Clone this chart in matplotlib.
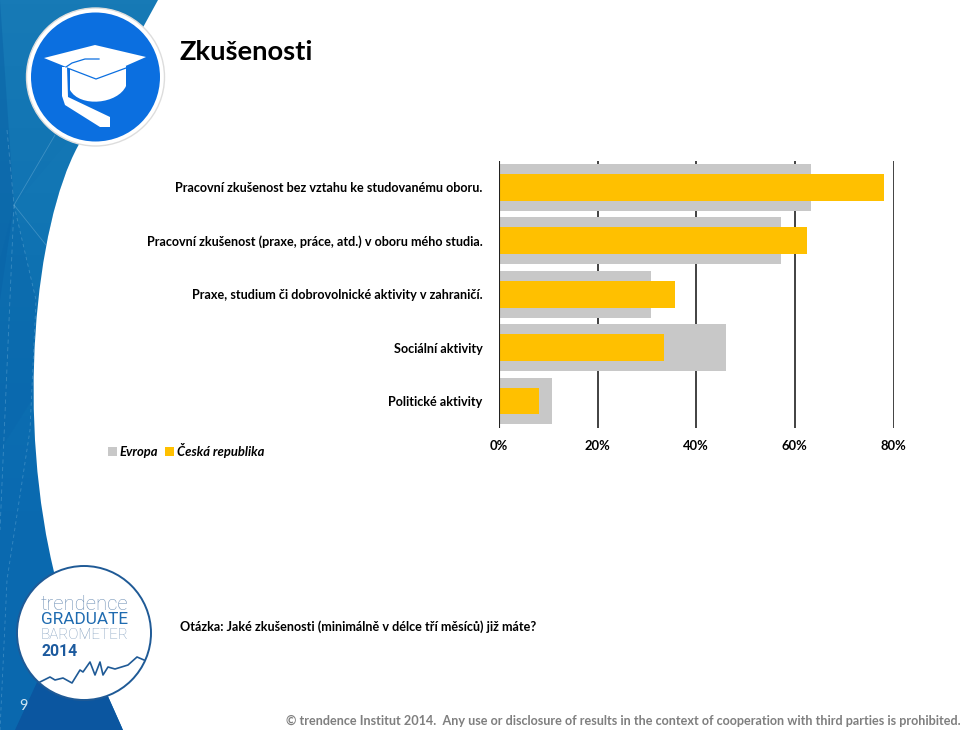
import numpy as np
import matplotlib
matplotlib.use("Agg")
import matplotlib.pyplot as plt
from matplotlib.patches import Circle, Polygon, PathPatch
from matplotlib.path import Path

plt.rcParams["font.family"] = ["Lato", "DejaVu Sans"]

categories = [
    "Pracovní zkušenost bez vztahu ke studovanému oboru.",
    "Pracovní zkušenost (praxe, práce, atd.) v oboru mého studia.",
    "Praxe, studium či dobrovolnické aktivity v zahraničí.",
    "Sociální aktivity",
    "Politické aktivity",
]
evropa = [63.3, 57.2, 30.8, 46.0, 10.7]
cesko = [78.1, 62.5, 35.7, 33.5, 8.1]
x_ticks = [0, 20, 40, 60, 80]

GREY = "#c8c8c8"
YELLOW = "#ffc000"
BLUE = "#0b6fe0"
W, H = 960, 730

fig = plt.figure(figsize=(9.6, 7.3), dpi=100, facecolor="white")

# vrstva dekorace v pixelech obrazku
bg = fig.add_axes([0, 0, 1, 1], zorder=0)
bg.set_xlim(0, W); bg.set_ylim(H, 0); bg.axis("off")

M, L, C = Path.MOVETO, Path.LINETO, Path.CURVE4
panel = PathPatch(Path([(0, 0), (158, 0), (78, 146), (35, 225), (15, 420), (56, 580), (123, 730), (0, 730), (0, 0)],
                       [M, L, L, C, C, C, L, L, Path.CLOSEPOLY]), fc="none", ec="none")
bg.add_patch(panel)
stops = np.array([[0x17, 0x7a, 0xb6], [0x0f, 0x72, 0xb2], [0x0a, 0x6a, 0xb0], [0x0a, 0x68, 0xae]]) / 255
yy = np.linspace(0, 1, 200)
grad = np.stack([np.interp(yy, [0, 0.35, 0.7, 1], stops[:, i]) for i in range(3)], axis=1)[:, None, :]
im = bg.imshow(grad, extent=(0, 160, 730, 0), aspect="auto", zorder=1)
im.set_clip_path(panel)
bg.set_xlim(0, W); bg.set_ylim(H, 0)

facets = [
    ([(0, 0), (14, 205), (0, 300)], "#0a62a6", 0.5),
    ([(14, 205), (78, 130), (46, 245)], "#1a80bb", 0.18),
    ([(14, 205), (36, 300), (32, 400), (0, 450), (0, 260)], "#0863aa", 0.3),
    ([(38, 680), (100, 660), (123, 730), (15, 730)], "#0b56a0", 1.0),
]
for pts, col, al in facets:
    p = Polygon(pts, closed=True, fc=col, ec="none", alpha=al, zorder=2)
    bg.add_patch(p)
    p.set_clip_path(panel)
for seg, ls in [
    ([(7, 130), (14, 205), (0, 530)], (0, (5, 4))),
    ([(14, 205), (36, 300), (30, 430), (7, 580), (0, 730)], (0, (4, 4))),
    ([(14, 205), (55, 135)], "-"),
    ([(14, 205), (46, 245)], "-"),
]:
    xs, ys = zip(*seg)
    l, = bg.plot(xs, ys, color="#8fc4e4", lw=0.6, ls=ls, alpha=0.35, zorder=3)
    l.set_clip_path(panel)

# ikona s cepici
bg.add_patch(Circle((95.5, 77), 69, fc="white", ec="#dddddd", lw=1, zorder=4))
bg.add_patch(Circle((95.5, 77), 64.5, fc=BLUE, ec="none", zorder=5))
body = Path([(70, 66), (126, 66), (126, 86), (118, 104), (80, 108), (70, 90), (70, 66)],
            [M, L, L, C, C, C, Path.CLOSEPOLY])
bg.add_patch(PathPatch(body, fc="white", ec="none", zorder=6))
bg.add_patch(Polygon([(62, 67), (67, 67), (68, 97), (110, 117), (110, 127), (100, 127), (65, 105), (62, 96)],
                     fc="white", ec="none", zorder=6))
bg.add_patch(Polygon([(44, 58), (95, 45), (146, 57), (96, 79)], fc="white", ec="none", zorder=7))
bg.plot([70, 96, 126], [69, 79, 68], color=BLUE, lw=0.9, zorder=8)
bg.plot([66, 72, 85, 99], [67, 63, 59, 59], color=BLUE, lw=0.9, zorder=8)

# kruh trendence
bg.add_patch(Circle((84, 633), 67, fc="white", ec="#1f5a96", lw=1.4, zorder=4))
spark_x = [40, 50, 55, 63, 72, 80, 83, 90, 95, 100, 103, 108, 115, 128, 137, 144]
spark_y = [682, 677, 680, 678, 683, 670, 672, 662, 675, 662, 675, 667, 669, 665, 657, 660]
bg.plot(spark_x, spark_y, color="#1f5a96", lw=1.2, zorder=5)
bg.text(41, 604, "trendence", fontsize=14.6, color="#6d8fb5", family="Roboto", fontweight="light", va="center", zorder=6)
bg.text(41, 620, "GRADUATE", fontsize=12.4, color="#1f6bb0", family="Roboto", va="center", zorder=6)
bg.text(41, 635, "BAROMETER", fontsize=10.9, color="#7f9cbc", family="Roboto", fontweight="light", va="center", zorder=6)
bg.text(41, 651, "2014", fontsize=11.3, color="#1c5a9e", family="Roboto", fontweight="bold", va="center", zorder=6)
bg.text(23, 706, "9", fontsize=10.5, color="#cfe3f2", ha="center", va="center", zorder=6)

bg.text(180, 52, "Zkušenosti", fontsize=19.7, color="black", fontweight="bold", va="center")
bg.text(180, 627, "Otázka: Jaké zkušenosti (minimálně v délce tří měsíců) již máte?", fontsize=9.07,
        color="black", fontweight="bold", va="center")
bg.text(286, 721, "© trendence Institut 2014.  Any use or disclosure of results in the context of cooperation with third parties is prohibited.",
        fontsize=9.12, color="#7f7f7f", fontweight="bold", va="center")

# graf
ax = fig.add_axes([499 / W, 1 - 427.7 / H, (893.5 - 499) / W, 267 / H], zorder=2)
ax.patch.set_alpha(0)
y = np.arange(len(categories))
ax.barh(y, evropa, height=0.88, color=GREY, label="Evropa", zorder=2)
ax.barh(y, cesko, height=0.5, color=YELLOW, label="Česká republika", zorder=3)
ax.set_xlim(0, 80)
ax.set_ylim(len(categories) - 0.5, -0.5)
ax.set_xticks(x_ticks)
ax.set_xticklabels(["%d%%" % v for v in x_ticks], fontsize=9.4, fontweight="bold")
ax.set_yticks(y)
ax.set_yticklabels(categories, fontsize=9.07, fontweight="bold")
ax.tick_params(axis="x", length=0, pad=8.5)
ax.tick_params(axis="y", length=0, pad=12)
ax.grid(axis="x", color="#333333", lw=1.3, zorder=1)
ax.set_axisbelow(True)
for s in ax.spines.values():
    s.set_visible(False)
ax.axvline(0, color="#222222", lw=1.5, zorder=4)
ax.get_xgridlines()[0].set_visible(False)

fig.legend(*ax.get_legend_handles_labels(), loc="center left", bbox_to_anchor=(107.5 / W, 1 - 451 / H),
           ncol=2, frameon=False, handlelength=0.7, handleheight=0.7, handletextpad=0.2,
           columnspacing=0.55, borderpad=0, borderaxespad=0,
           prop={"size": 9.4, "weight": "bold", "style": "italic"})

fig.savefig("out.png", dpi=100)
